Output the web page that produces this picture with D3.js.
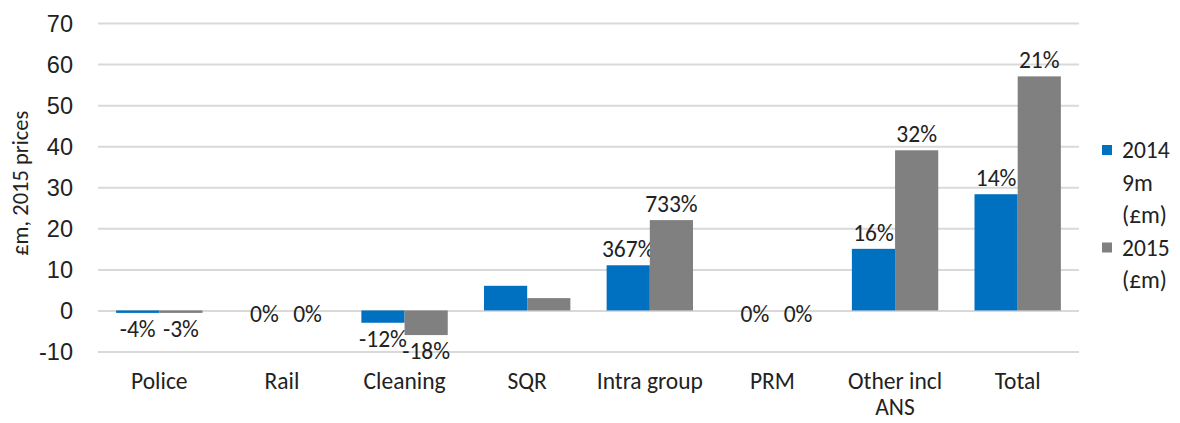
<!DOCTYPE html>
<html>
<head>
<meta charset="utf-8">
<script src="https://cdn.jsdelivr.net/npm/d3@7"></script>
<style>
  body { margin: 0; background: #fff; }
  svg { font-family: Carlito, Calibri, Lato, sans-serif; }
  .grid line { stroke: #d9d9d9; stroke-width: 2; }
  .grid .domain { display: none; }
  .axis text { fill: #222; font-size: 23.5px; }
  .axis .domain, .axis line { display: none; }
</style>
</head>
<body>
<svg width="1180" height="423"></svg>
<script>
// categories along the x axis
const categories = ["Police", "Rail", "Cleaning", "SQR", "Intra group", "PRM", "Other incl ANS", "Total"];
// series values (£m, 2015 prices)
const values2014 = [-0.6, 0, -3, 6, 11, 0, 15, 28.3];
const values2015 = [-0.6, 0, -6, 3, 22, 0, 39, 57];
// data labels shown over the bars
const labels2014 = ["-4%", "0%", "-12%", "", "367%", "0%", "16%", "14%"];
const labels2015 = ["-3%", "0%", "-18%", "", "733%", "0%", "32%", "21%"];
const seriesNames = ["2014 9m (£m)", "2015 (£m)"];
const yTicks = [-10, 0, 10, 20, 30, 40, 50, 60, 70];

const colors = ["#0070c0", "#808080"];
const svg = d3.select("svg");
const margin = { left: 98, right: 1079, top: 23, bottom: 351.5 };
const fs = 23.5;

const x = d3.scaleBand().domain(categories).range([margin.left, margin.right]).paddingInner(0).paddingOuter(0);
const xs = d3.scaleBand().domain([0, 1]).range([0, x.bandwidth()]).paddingInner(0).paddingOuter(0.42);
const y = d3.scaleLinear().domain([-10, 70]).range([margin.bottom, margin.top]);

// gridlines
svg.append("g").attr("class", "grid")
  .attr("transform", `translate(${margin.left},0)`)
  .call(d3.axisLeft(y).tickValues(yTicks).tickSize(-(margin.right - margin.left)).tickFormat(""));

// y axis labels (plain hyphen like the source)
svg.append("g").attr("class", "axis")
  .attr("transform", `translate(${margin.left - 25},0)`)
  .call(d3.axisLeft(y).tickValues(yTicks).tickSize(0).tickPadding(0).tickFormat(d => String(d)))
  .selectAll("text").attr("dy", "0.36em");

// y axis title
svg.append("text")
  .attr("transform", `translate(28,${y(30) - 4}) rotate(-90)`)
  .attr("text-anchor", "middle")
  .attr("font-size", 22.5).attr("fill", "#222")
  .text("£m, 2015 prices");

// x category labels, wrapped
const xl = svg.append("g").selectAll("text").data(categories).join("text")
  .attr("x", d => x(d) + x.bandwidth() / 2)
  .attr("y", 389)
  .attr("text-anchor", "middle")
  .attr("font-size", fs).attr("fill", "#222");
xl.each(function (d) {
  const parts = d === "Other incl ANS" ? ["Other incl", "ANS"] : [d];
  d3.select(this).selectAll("tspan").data(parts).join("tspan")
    .attr("x", x(d) + x.bandwidth() / 2)
    .attr("dy", (p, i) => i ? 26 : 0)
    .text(p => p);
});

const series = [values2014, values2015];
const seriesLabels = [labels2014, labels2015];
series.forEach((vals, s) => {
  const g = svg.append("g");
  g.selectAll("rect").data(vals).join("rect")
    .attr("x", (v, i) => x(categories[i]) + xs(s))
    .attr("width", xs.bandwidth())
    .attr("y", v => y(Math.max(0, v)))
    .attr("height", v => Math.abs(y(v) - y(0)))
    .attr("fill", colors[s]);
  g.selectAll("text").data(vals).join("text")
    .attr("x", (v, i) => x(categories[i]) + xs(s) + xs.bandwidth() / 2 + (v === 0 ? 4 : 0))
    .attr("y", v => v > 0 ? y(v) - 8 : v < 0 ? y(v) + 24 : y(0) + 12)
    .attr("text-anchor", "middle")
    .attr("font-size", fs).attr("fill", "#222")
    .text((v, i) => seriesLabels[s][i]);
});

// legend
const legendLines = [["2014", "9m", "(£m)"], ["2015", "(£m)"]];
let ly = 150;
legendLines.forEach((lines, s) => {
  svg.append("rect").attr("x", 1102).attr("y", ly - 5).attr("width", 10).attr("height", 10).attr("fill", colors[s]);
  lines.forEach((t, i) => {
    svg.append("text").attr("x", 1122).attr("y", ly + 8 + i * 32.5)
      .attr("font-size", fs).attr("fill", "#222").text(t);
  });
  ly += lines.length * 32.5;
});
</script>
</body>
</html>
